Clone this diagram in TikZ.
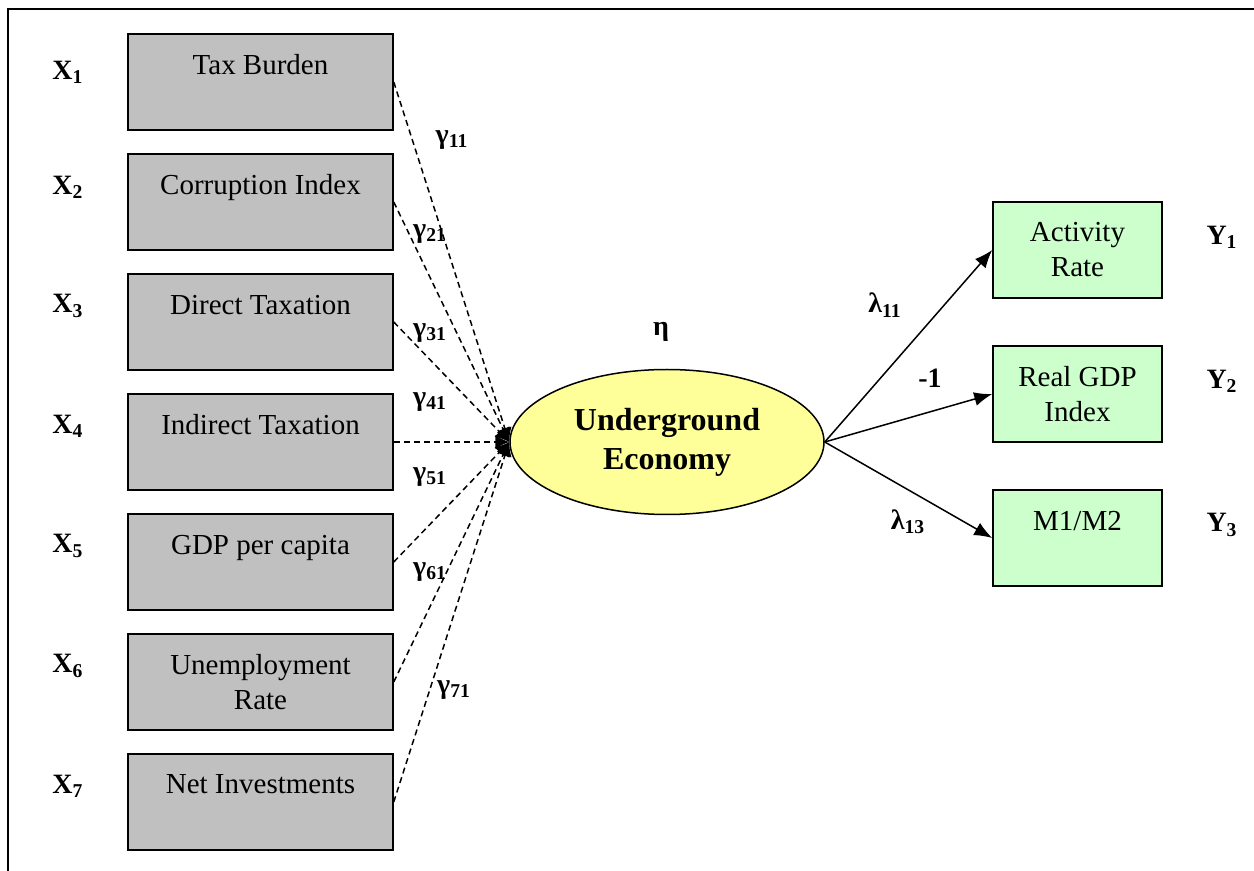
\documentclass[tikz,border=0pt]{standalone}
\usepackage{fontspec}
\setmainfont{Liberation Serif}
\usetikzlibrary{shapes.geometric,arrows.meta}
\definecolor{boxgray}{HTML}{C0C0C0}
\definecolor{boxgreen}{HTML}{CCFFCC}
\definecolor{latyellow}{HTML}{FFFF99}

\begin{document}
\begin{tikzpicture}[x=0.5pt, y=-0.5pt,
    causebox/.style={draw, line width=0.75pt, fill=boxgray, minimum width=132.5pt, minimum height=48pt, align=center, font=\fontsize{14.5}{17.5}\selectfont},
    indbox/.style={draw, line width=0.75pt, fill=boxgreen, minimum width=84.5pt, minimum height=48pt, align=center, font=\fontsize{14.5}{17.5}\selectfont},
    varlabel/.style={font=\bfseries\fontsize{14}{16}\selectfont},
    gpath/.style={dash pattern=on 3pt off 2pt, line width=0.75pt, -{Latex[length=7pt,width=7pt]}},
    lpath/.style={line width=0.75pt, -{Latex[length=9pt,width=7pt]}}]
    \useasboundingbox (0,0) rectangle (1254,871);
    % Rahmen (nur oben und links)
    \draw[line width=1pt] (8,871) -- (8,9) -- (1254,9);

    % Ursachen
    \node[causebox] (tax) at (260.5,82) {Tax Burden\\\mbox{}};
    \node[causebox] (corr) at (260.5,202) {Corruption Index\\\mbox{}};
    \node[causebox] (dtax) at (260.5,322) {Direct Taxation\\\mbox{}};
    \node[causebox] (itax) at (260.5,442) {Indirect Taxation\\\mbox{}};
    \node[causebox] (gdp) at (260.5,562) {GDP per capita\\\mbox{}};
    \node[causebox] (unemp) at (260.5,682) {Unemployment\\Rate};
    \node[causebox] (inv) at (260.5,802) {Net Investments\\\mbox{}};
    \node[varlabel] (x1) at (68,72) {X\textsubscript{1}};
    \node[varlabel] (x2) at (68,187) {X\textsubscript{2}};
    \node[varlabel] (x3) at (68,306) {X\textsubscript{3}};
    \node[varlabel] (x4) at (68,426) {X\textsubscript{4}};
    \node[varlabel] (x5) at (68,546) {X\textsubscript{5}};
    \node[varlabel] (x6) at (68,666) {X\textsubscript{6}};
    \node[varlabel] (x7) at (68,786) {X\textsubscript{7}};

    % latente Variable
    \node[ellipse, draw, line width=0.75pt, fill=latyellow, minimum width=157pt, minimum height=72.5pt, inner sep=0pt, align=center, font=\bfseries\fontsize{16}{19.5}\selectfont] (eco) at (667,442) {Underground\\Economy};
    \node[varlabel] (eta) at (661,332) {η};

    % Pfade der Ursachen
    \draw[gpath] (tax.east) -- (eco.west);
    \draw[gpath] (corr.east) -- (eco.west);
    \draw[gpath] (dtax.east) -- (eco.west);
    \draw[gpath] (itax.east) -- (eco.west);
    \draw[gpath] (gdp.east) -- (eco.west);
    \draw[gpath] (unemp.east) -- (eco.west);
    \draw[gpath] (inv.east) -- (eco.west);
    \node[varlabel] (g11) at (452,140) {γ\textsubscript{11}};
    \node[varlabel] (g21) at (430,234) {γ\textsubscript{21}};
    \node[varlabel] (g31) at (430,333) {γ\textsubscript{31}};
    \node[varlabel] (g41) at (430,402) {γ\textsubscript{41}};
    \node[varlabel] (g51) at (430,477) {γ\textsubscript{51}};
    \node[varlabel] (g61) at (430,572) {γ\textsubscript{61}};
    \node[varlabel] (g71) at (454,690) {γ\textsubscript{71}};

    % Indikatoren
    \node[indbox] (act) at (1077.5,250) {Activity\\Rate};
    \node[indbox] (rgdp) at (1077.5,394) {Real GDP\\Index};
    \node[indbox] (money) at (1077.5,538) {M1/M2\\\mbox{}};
    \node[varlabel] (y1) at (1222,237) {Y\textsubscript{1}};
    \node[varlabel] (y2) at (1222,381) {Y\textsubscript{2}};
    \node[varlabel] (y3) at (1222,525) {Y\textsubscript{3}};

    \draw[lpath] (eco.east) -- (act.west);
    \draw[lpath] (eco.east) -- (rgdp.west);
    \draw[lpath] (eco.east) -- (money.west);
    \node[varlabel] (l11) at (885,305) {λ\textsubscript{11}};
    \node[varlabel] (lone) at (930,378) {-1};
    \node[varlabel] (l13) at (908,522) {λ\textsubscript{13}};
\end{tikzpicture}
\end{document}
